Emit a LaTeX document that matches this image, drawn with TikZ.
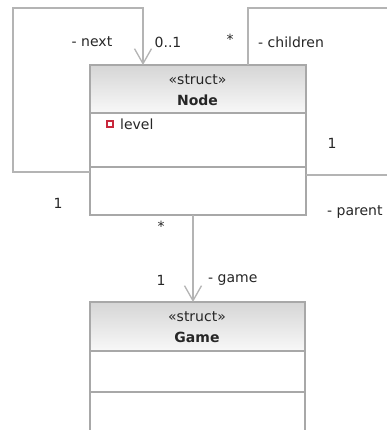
\documentclass[tikz,border=0pt]{standalone}
\usepackage{fontspec}
\setmainfont{DejaVu Sans}
\usetikzlibrary{arrows.meta,calc}
\definecolor{linegray}{HTML}{B4B4B4}
\definecolor{boxgray}{HTML}{A8A8A8}
\definecolor{shadowgray}{HTML}{C8C8C8}
\definecolor{hdtop}{HTML}{D6D6D6}
\definecolor{hdbot}{HTML}{F8F8F8}
\definecolor{attrred}{HTML}{C8283C}
\begin{document}
\begin{tikzpicture}[x=1pt,y=-1pt,
  lbl/.style={font=\fontsize{14}{16}\selectfont, inner sep=0pt, text=black!85},
  boxline/.style={draw=boxgray, line width=1.2pt},
  assoc/.style={draw=linegray, line width=1.3pt},
  navend/.style={-{Straight Barb[length=15pt,width=17pt,line width=1.3pt]}},
  umlbox/.style={boxline, fill=white, inner sep=0pt, anchor=north west}
]
\useasboundingbox (0,0) rectangle (387,430);
\fill[white] (0,0) rectangle (387,430);

% ---- Node class ----
\fill[shadowgray] (92,67) rectangle (307,216);
\node[umlbox, minimum width=215pt, minimum height=149pt] (Node) at (90,65) {};
\shade[top color=hdtop, bottom color=hdbot] ([shift={(0.6,0.6)}]Node.north west) rectangle (304.4,113);
\draw[boxline] (Node.north west) rectangle (Node.south east);
\draw[boxline] (90,113) -- (305,113);
\draw[boxline] (90,167) -- (305,167);
\node[lbl] (nst) at (197.5,80) {«struct»};
\node[lbl, font=\fontsize{14}{16}\selectfont\bfseries] (nnm) at (197.5,100) {Node};
\draw[attrred, line width=1.2pt] (107,121) rectangle (113,127);
\node[lbl, anchor=west] (lvl) at (120,124) {level};

% ---- Game class ----
\fill[shadowgray] (92,304) rectangle (306,445);
\node[umlbox, minimum width=214pt, minimum height=143pt] (Game) at (90,302) {};
\shade[top color=hdtop, bottom color=hdbot] ([shift={(0.6,0.6)}]Game.north west) rectangle (303.4,351);
\draw[boxline] (Game.north west) rectangle (Game.south east);
\draw[boxline] (90,351) -- (304,351);
\draw[boxline] (90,392) -- (304,392);
\node[lbl] (gst) at (197,317) {«struct»};
\node[lbl, font=\fontsize{14}{16}\selectfont\bfseries] (gnm) at (197,337) {Game};

% ---- next (self association) ----
\coordinate (nA) at (13,172);
\coordinate (nB) at (13,8);
\coordinate (nC) at (143,8);
\draw[assoc, navend] (Node.west |- nA) -- (nA) -- (nB) -- (nC) -- (nC |- Node.north);
\node[lbl] (lnext) at (92,42) {- next};
\node[lbl] (lnextm) at (168,42) {0..1};
\node[lbl] (lnextone) at (58,203) {1};

% ---- children / parent ----
\coordinate (cA) at (248,8);
\coordinate (cB) at (388,8);
\coordinate (cC) at (388,175);
\draw[assoc] (cA |- Node.north) -- (cA) -- (cB) -- (cC) -- (cC -| Node.east);
\node[lbl] (lstar) at (230,39) {*};
\node[lbl, anchor=west] (lchild) at (258,42) {- children};
\node[lbl] (lpone) at (332,143) {1};
\node[lbl, anchor=west] (lparent) at (327,212) {- parent};

% ---- game ----
\coordinate (gX) at (193,0);
\draw[assoc, navend] (gX |- Node.south) -- (gX |- Game.north);
\node[lbl] (lgstar) at (161,226) {*};
\node[lbl] (lgone) at (161,280) {1};
\node[lbl, anchor=west] (lgame) at (208,280) {- game};
\end{tikzpicture}
\end{document}
